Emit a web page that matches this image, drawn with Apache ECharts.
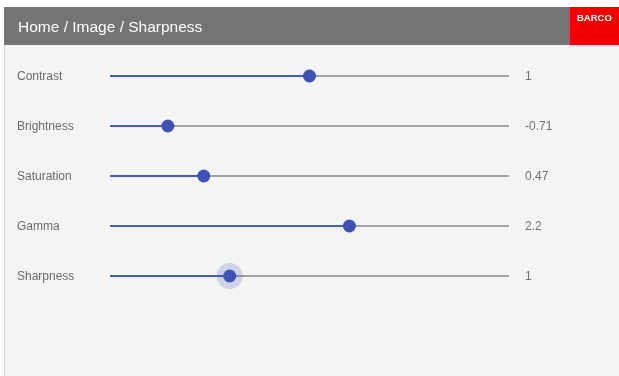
<!DOCTYPE html>
<html>
<head>
<meta charset="utf-8">
<script src="https://cdn.jsdelivr.net/npm/echarts@6/dist/echarts.min.js"></script>
<style>
html,body{margin:0;padding:0;background:#fff;}
#chart{width:619px;height:376px;}
</style>
</head>
<body>
<div id="chart"></div>
<script>
const title = 'Home / Image / Sharpness';
const labels = ['Contrast', 'Brightness', 'Saturation', 'Gamma', 'Sharpness'];
const values = [1, -0.71, 0.47, 2.2, 1];
const valueText = ['1', '-0.71', '0.47', '2.2', '1'];
const rangeMin = [0, -1, 0, 1, -2];
const rangeMax = [2, 1, 2, 3, 8];
const activeIndex = 4;

const FONT = "'Liberation Sans', Arial, sans-serif";
const chart = echarts.init(document.getElementById('chart'), null, {renderer: 'canvas'});

function labelStyle(margin, color) {
  return {
    align: 'left', verticalAlign: 'middle', margin: margin,
    formatter: v => '{t|' + v + '}',
    rich: {t: {color: color, fontSize: 12, fontFamily: FONT, padding: [2, 0, 0, 0]}}
  };
}

const grid = [], xAxis = [], yAxis = [], series = [];
labels.forEach((name, i) => {
  const rowY = 76 + 50 * i;
  grid.push({left: 110, width: 399, top: rowY - 10, height: 20});
  xAxis.push({gridIndex: i, type: 'value', min: rangeMin[i], max: rangeMax[i], show: false});
  yAxis.push({
    gridIndex: i, type: 'category', data: [name],
    axisLine: {show: false}, axisTick: {show: false}, splitLine: {show: false},
    axisLabel: labelStyle(93, '#6b6b6b')
  });
  yAxis.push({
    gridIndex: i, type: 'category', position: 'right', data: [valueText[i]],
    axisLine: {show: false}, axisTick: {show: false}, splitLine: {show: false},
    axisLabel: labelStyle(16, '#717171')
  });
  series.push({
    type: 'line', xAxisIndex: i, yAxisIndex: 2 * i, silent: true, symbol: 'none', z: 1,
    lineStyle: {color: '#a3a3a3', width: 2},
    data: [[rangeMin[i], 0], [rangeMax[i], 0]]
  });
  series.push({
    type: 'line', xAxisIndex: i, yAxisIndex: 2 * i, silent: true, symbol: 'none', z: 2,
    lineStyle: {color: '#4a5cc0', width: 2},
    data: [[rangeMin[i], 0], [values[i], 0]]
  });
  if (i === activeIndex) {
    series.push({
      type: 'scatter', xAxisIndex: i, yAxisIndex: 2 * i, silent: true, z: 3,
      symbolSize: 26, itemStyle: {color: 'rgba(63,81,181,0.2)', opacity: 1},
      data: [[values[i], 0]]
    });
  }
  series.push({
    type: 'scatter', xAxisIndex: i, yAxisIndex: 2 * i, silent: true, z: 4,
    symbolSize: 13, itemStyle: {color: '#3f51b5', opacity: 1},
    data: [[values[i], 0]]
  });
});

chart.setOption({
  animation: false,
  backgroundColor: '#ffffff',
  graphic: [
    {type: 'rect', z: -10, shape: {x: 4, y: 44, width: 615, height: 332}, style: {fill: '#f4f4f4'}},
    {type: 'line', z: -9, shape: {x1: 4.5, y1: 44, x2: 4.5, y2: 376}, style: {stroke: '#d6d6d6', lineWidth: 1}},
    {type: 'rect', z: -9, shape: {x: 4, y: 7, width: 566, height: 38}, style: {fill: '#747474'}},
    {type: 'rect', z: -9, shape: {x: 570, y: 7, width: 49, height: 38}, style: {fill: '#f20000'}},
    {type: 'text', z: 10, x: 18, y: 28, style: {text: title, fill: '#ffffff', font: '15.5px ' + FONT, textVerticalAlign: 'middle'}},
    {type: 'text', z: 10, x: 577, y: 18, style: {text: 'BARCO', fill: '#ffffff', font: 'bold 9.5px ' + FONT, textVerticalAlign: 'middle'}}
  ],
  grid, xAxis, yAxis, series
});
</script>
</body>
</html>
